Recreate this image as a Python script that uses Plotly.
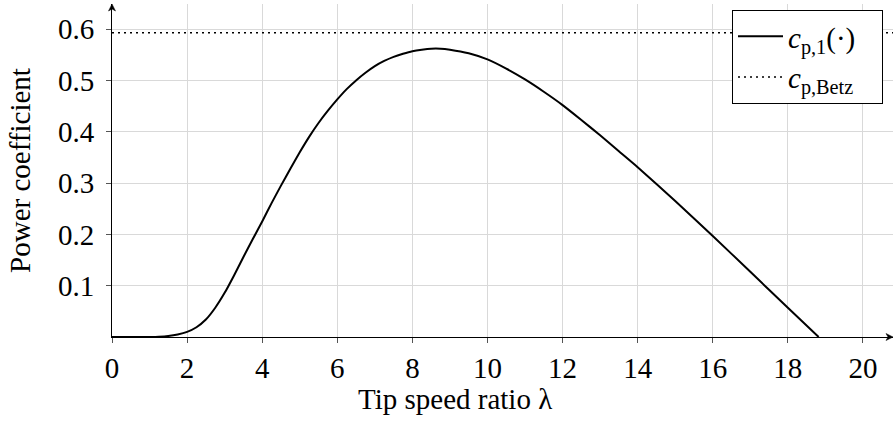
import plotly.graph_objects as go

# Tip speed ratio (lambda) and power coefficient
tsr = [0.0, 0.5, 1.0, 1.25, 1.5, 1.75, 2.0, 2.25, 2.5, 2.75, 3.0, 3.25, 3.5,
       3.75, 4.0, 4.25, 4.5, 4.75, 5.0, 5.25, 5.5, 5.75, 6.0, 6.25, 6.5, 6.75,
       7.0, 7.25, 7.5, 7.75, 8.0, 8.25, 8.5, 8.75, 9.0, 9.5, 10.0, 10.5, 11.0,
       11.5, 12.0, 12.5, 13.0, 13.5, 14.0, 15.0, 16.0, 17.0, 18.0, 18.82]
cp1 = [0.0, 0.0, 0.0, 0.0005, 0.002, 0.005, 0.010, 0.019, 0.034, 0.057, 0.086,
       0.120, 0.156, 0.191, 0.225, 0.261, 0.295, 0.328, 0.360, 0.390, 0.417,
       0.441, 0.463, 0.483, 0.500, 0.515, 0.528, 0.538, 0.546, 0.552, 0.557,
       0.560, 0.562, 0.562, 0.560, 0.553, 0.541, 0.523, 0.502, 0.478, 0.452,
       0.423, 0.393, 0.362, 0.331, 0.265, 0.197, 0.127, 0.057, 0.0]

betz_x = [0.0, 20.8]
betz_y = [0.593, 0.593]

x_ticks = [0, 2, 4, 6, 8, 10, 12, 14, 16, 18, 20]
y_ticks = [0.1, 0.2, 0.3, 0.4, 0.5, 0.6]
y_tick_text = ["0.1", "0.2", "0.3", "0.4", "0.5", "0.6"]

FONT = "Liberation Serif"
PLOT_W = 894 - 112 - 1
PLOT_H = 435 - 4 - 98
PAD = "&nbsp;&nbsp;&nbsp;"

fig = go.Figure()
fig.add_trace(go.Scatter(
    x=tsr, y=cp1, mode="lines", name="<i>c</i><sub>p,1</sub>(·)" + PAD,
    line=dict(color="black", width=2, shape="spline", smoothing=0.5),
))
fig.add_trace(go.Scatter(
    x=betz_x, y=betz_y, mode="lines", name="<i>c</i><sub>p,Betz</sub>" + PAD,
    line=dict(color="black", width=1.5, dash="2px,4px"),
))

fig.update_layout(
    width=894, height=435,
    margin=dict(l=112, r=1, t=4, b=98),
    paper_bgcolor="white", plot_bgcolor="white",
    font=dict(family=FONT, size=29, color="black"),
    showlegend=True,
    legend=dict(
        x=1 - 10 / PLOT_W, y=1 - 6 / PLOT_H, xanchor="right", yanchor="top",
        bgcolor="white", bordercolor="black", borderwidth=1,
        font=dict(family=FONT, size=29, color="black"),
        tracegroupgap=0, itemwidth=45,
    ),
    xaxis=dict(
        range=[0, 20.8], tickvals=x_ticks,
        tickfont=dict(family=FONT, size=29, color="black"),
        showgrid=True, gridcolor="#d9d9d9", gridwidth=1,
        showline=True, linecolor="black", linewidth=1,
        ticks="outside", ticklen=5, tickcolor="#555555",
        zeroline=False,
    ),
    yaxis=dict(
        range=[0, 0.649], tickvals=y_ticks, ticktext=y_tick_text,
        tickfont=dict(family=FONT, size=29, color="black"),
        showgrid=True, gridcolor="#d9d9d9", gridwidth=1,
        showline=True, linecolor="black", linewidth=1,
        ticks="outside", ticklen=5, tickcolor="#555555",
        ticklabelstandoff=6,
        zeroline=False,
        title=dict(text="Power coefficient", standoff=18,
                   font=dict(family=FONT, size=29)),
    ),
)

# x-axis title, placed as in the reference (slightly left of centre)
fig.add_annotation(x=(455 - 112) / PLOT_W, y=0, xref="paper", yref="paper",
                   xanchor="center", yanchor="top", yshift=-44,
                   showarrow=False, text="Tip speed ratio λ",
                   font=dict(family=FONT, size=29, color="black"))

# axis arrowheads
fig.add_shape(type="path", xref="paper", yref="paper",
              xsizemode="pixel", ysizemode="pixel", xanchor=0, yanchor=1,
              path="M -3.5,-7 L 0,0 L 3.5,-7 L 0,-5 Z",
              fillcolor="black", line=dict(color="black", width=0.5))
fig.add_shape(type="path", xref="paper", yref="paper",
              xsizemode="pixel", ysizemode="pixel", xanchor=1, yanchor=0,
              path="M -7,-3.5 L 0,0 L -7,3.5 L -5,0 Z",
              fillcolor="black", line=dict(color="black", width=0.5))

fig.write_html("out.html")
